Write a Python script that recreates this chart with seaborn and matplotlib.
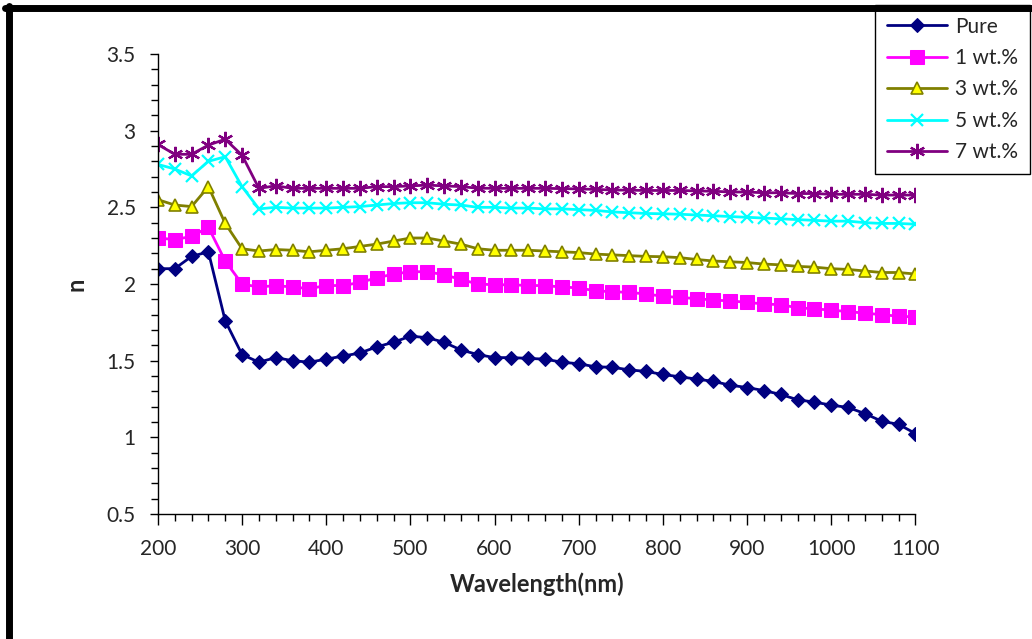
import matplotlib
matplotlib.use("Agg")
import matplotlib.pyplot as plt
from matplotlib.lines import Line2D
from matplotlib.ticker import MultipleLocator
import seaborn as sns
import numpy as np
import pandas as pd

# wavelength grid (nm)
wavelength = list(range(200, 1101, 20))

pure = [2.10, 2.10, 2.18, 2.21, 1.76, 1.54, 1.49, 1.52, 1.50, 1.49,
        1.51, 1.53, 1.55, 1.59, 1.62, 1.66, 1.65, 1.62, 1.57, 1.54,
        1.52, 1.52, 1.515, 1.51, 1.49, 1.48, 1.46, 1.457, 1.44, 1.43,
        1.41, 1.395, 1.38, 1.365, 1.34, 1.325, 1.305, 1.28, 1.245, 1.23,
        1.21, 1.195, 1.155, 1.105, 1.085, 1.025]
wt1 = [2.30, 2.29, 2.31, 2.37, 2.15, 2.00, 1.98, 1.99, 1.98, 1.97,
       1.99, 1.99, 2.01, 2.04, 2.065, 2.08, 2.08, 2.06, 2.03, 2.00,
       1.995, 1.995, 1.99, 1.99, 1.98, 1.975, 1.955, 1.95, 1.945, 1.935,
       1.92, 1.912, 1.905, 1.895, 1.89, 1.88, 1.87, 1.865, 1.845, 1.838,
       1.83, 1.82, 1.81, 1.80, 1.79, 1.785]
wt3 = [2.55, 2.515, 2.505, 2.635, 2.395, 2.23, 2.215, 2.225, 2.22, 2.21,
       2.22, 2.23, 2.245, 2.26, 2.28, 2.30, 2.30, 2.28, 2.26, 2.23,
       2.22, 2.22, 2.22, 2.215, 2.21, 2.205, 2.195, 2.19, 2.185, 2.18,
       2.178, 2.172, 2.16, 2.15, 2.145, 2.14, 2.13, 2.125, 2.115, 2.11,
       2.10, 2.095, 2.085, 2.075, 2.075, 2.065]
wt5 = [2.78, 2.75, 2.705, 2.80, 2.83, 2.635, 2.49, 2.50, 2.495, 2.495,
       2.495, 2.50, 2.505, 2.515, 2.525, 2.53, 2.53, 2.52, 2.515, 2.50,
       2.50, 2.495, 2.495, 2.49, 2.49, 2.485, 2.48, 2.47, 2.465, 2.46,
       2.458, 2.455, 2.45, 2.445, 2.44, 2.435, 2.43, 2.425, 2.42, 2.415,
       2.41, 2.41, 2.40, 2.395, 2.395, 2.39]
wt7 = [2.91, 2.846, 2.846, 2.906, 2.944, 2.84, 2.624, 2.64, 2.624, 2.624,
       2.624, 2.624, 2.624, 2.635, 2.635, 2.64, 2.645, 2.64, 2.635, 2.625,
       2.624, 2.624, 2.624, 2.624, 2.622, 2.62, 2.617, 2.613, 2.612, 2.61,
       2.61, 2.61, 2.607, 2.605, 2.60, 2.60, 2.595, 2.595, 2.59, 2.59,
       2.585, 2.585, 2.585, 2.58, 2.58, 2.58]

labels = ["Pure", "1 wt.%", "3 wt.%", "5 wt.%", "7 wt.%"]
series = [pure, wt1, wt3, wt5, wt7]

sns.set_style("white")
plt.rcParams['font.family'] = ['Lato', 'DejaVu Sans']

fig = plt.figure(figsize=(10.32, 6.39), dpi=100)
ax = fig.add_axes([0.153, 0.1956, 0.734, 0.7199])

# seaborn paints marker edges white by default, so give every series its own edge colour
styles = [
    dict(color='#000080', marker='D', markersize=7, markerfacecolor='#000080', markeredgecolor='#000080'),
    dict(color='#FF00FF', marker='s', markersize=10, markerfacecolor='#FF00FF', markeredgecolor='#FF00FF'),
    dict(color='#808000', marker='^', markersize=9, markerfacecolor='#FFFF00', markeredgecolor='#808000', markeredgewidth=1.2),
    dict(color='#00FFFF', marker='x', markersize=9, markeredgecolor='#00FFFF', markeredgewidth=1.6),
    dict(color='#800080', marker=(6, 2, 0), markersize=11, markeredgecolor='#800080', markeredgewidth=1.6),
]

for lab, vals, st in zip(labels, series, styles):
    df = pd.DataFrame({'Wavelength': wavelength, 'n': vals})
    sns.lineplot(data=df, x='Wavelength', y='n', ax=ax, label=lab, linewidth=2, **st)

ax.set_xlim(200, 1100)
ax.set_ylim(0.5, 3.5)
ax.xaxis.set_major_locator(MultipleLocator(100))
ax.xaxis.set_minor_locator(MultipleLocator(20))
ax.yaxis.set_minor_locator(MultipleLocator(0.1))
ax.set_yticks(np.arange(0.5, 3.51, 0.5))
ax.set_yticklabels(['0.5', '1', '1.5', '2', '2.5', '3', '3.5'])

for side in ['top', 'right']:
    ax.spines[side].set_visible(False)
for side in ['left', 'bottom']:
    ax.spines[side].set_color('black')
    ax.spines[side].set_linewidth(1)

ax.tick_params(axis='both', which='both', direction='out', color='black', left=True, bottom=True)
ax.tick_params(axis='y', which='major', length=6, width=1, labelsize=15, pad=10)
ax.tick_params(axis='y', which='minor', length=5, width=1)
ax.tick_params(axis='x', which='major', length=8, width=1, labelsize=15, pad=10)
ax.tick_params(axis='x', which='minor', length=5, width=1)

ax.set_xlabel('Wavelength(nm)', fontsize=17, fontweight='bold', labelpad=10)
ax.set_ylabel('n', fontsize=17, fontweight='bold', labelpad=14)

leg = ax.legend(loc='upper right', bbox_to_anchor=(0.998, 0.992), bbox_transform=fig.transFigure,
                fontsize=15, frameon=True, fancybox=False, framealpha=1,
                edgecolor='black', handlelength=2.9, labelspacing=0.55,
                borderpad=0.55, handletextpad=0.4, borderaxespad=0)
leg.get_frame().set_linewidth(1)

# thick frame along top and left edges of the picture
fig.add_artist(Line2D([0.005, 1.0], [0.9867, 0.9867], color='black', linewidth=5, transform=fig.transFigure))
fig.add_artist(Line2D([0.0087, 0.0087], [0.0, 0.99], color='black', linewidth=5, transform=fig.transFigure))

fig.savefig('out.png', dpi=100)
